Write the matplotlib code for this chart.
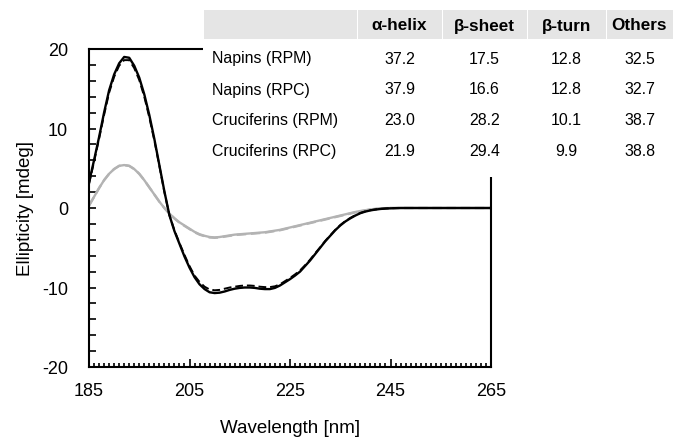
import numpy as np
import matplotlib
matplotlib.use("Agg")
import matplotlib.pyplot as plt
from matplotlib.patches import Rectangle
from matplotlib.ticker import MultipleLocator

plt.rcParams['font.family'] = ['Liberation Sans', 'DejaVu Sans']
plt.rcParams['axes.unicode_minus'] = False

# CD spectra, 1 nm steps from 185 to 265 nm
wavelength = np.arange(185, 266)

napins_rpm = [3.2, 6.0, 8.9, 12.0, 14.8, 16.8, 18.2, 19.0, 18.9, 17.9,
              16.4, 14.3, 11.7, 8.7, 5.4, 2.1, -0.9, -2.9, -4.5, -6.1,
              -7.5, -8.7, -9.6, -10.2, -10.6, -10.7, -10.65, -10.5, -10.3, -10.15,
              -10.05, -10.0, -10.0, -10.05, -10.15, -10.2, -10.2, -10.05, -9.75, -9.35,
              -8.95, -8.5, -8.0, -7.3, -6.6, -5.8, -5.0, -4.2, -3.5, -2.8,
              -2.2, -1.7, -1.3, -0.95, -0.65, -0.45, -0.3, -0.2, -0.12, -0.07,
              -0.04, -0.02, 0, 0, 0, 0, 0, 0, 0, 0,
              0, 0, 0, 0, 0, 0, 0, 0, 0, 0, 0]
napins_rpc = [3.0, 5.8, 8.7, 11.7, 14.5, 16.5, 17.9, 18.6, 18.6, 17.6,
              16.1, 14.0, 11.4, 8.5, 5.3, 2.0, -0.9, -2.8, -4.4, -5.9,
              -7.3, -8.5, -9.3, -9.9, -10.25, -10.35, -10.3, -10.15, -10.0, -9.9,
              -9.8, -9.75, -9.75, -9.8, -9.9, -9.95, -9.95, -9.85, -9.6, -9.2,
              -8.8, -8.35, -7.85, -7.2, -6.5, -5.7, -4.95, -4.15, -3.45, -2.75,
              -2.15, -1.65, -1.25, -0.9, -0.62, -0.42, -0.28, -0.18, -0.11, -0.06,
              -0.03, -0.01, 0, 0, 0, 0, 0, 0, 0, 0,
              0, 0, 0, 0, 0, 0, 0, 0, 0, 0, 0]
cruciferins_rpm = [0.3, 1.4, 2.5, 3.5, 4.3, 4.9, 5.3, 5.4, 5.3, 4.9,
                   4.3, 3.5, 2.6, 1.7, 0.8, 0.0, -0.7, -1.3, -1.8, -2.2,
                   -2.6, -3.0, -3.3, -3.5, -3.65, -3.7, -3.65, -3.55, -3.45, -3.35,
                   -3.3, -3.25, -3.2, -3.15, -3.1, -3.05, -2.95, -2.85, -2.75, -2.6,
                   -2.45, -2.3, -2.15, -2.0, -1.85, -1.7, -1.55, -1.4, -1.25, -1.1,
                   -0.95, -0.8, -0.65, -0.5, -0.38, -0.28, -0.18, -0.1, -0.05, -0.02,
                   0, 0, 0, 0, 0, 0, 0, 0, 0, 0,
                   0, 0, 0, 0, 0, 0, 0, 0, 0, 0, 0]
cruciferins_rpc = [0.3, 1.4, 2.5, 3.5, 4.3, 4.9, 5.3, 5.4, 5.3, 4.9,
                   4.3, 3.5, 2.6, 1.7, 0.8, 0.0, -0.7, -1.3, -1.85, -2.25,
                   -2.65, -3.05, -3.35, -3.55, -3.7, -3.75, -3.7, -3.6, -3.5, -3.4,
                   -3.35, -3.3, -3.25, -3.2, -3.15, -3.1, -3.0, -2.9, -2.8, -2.65,
                   -2.5, -2.35, -2.2, -2.05, -1.9, -1.75, -1.6, -1.45, -1.3, -1.15,
                   -1.0, -0.85, -0.7, -0.55, -0.42, -0.3, -0.2, -0.12, -0.06, -0.02,
                   0, 0, 0, 0, 0, 0, 0, 0, 0, 0,
                   0, 0, 0, 0, 0, 0, 0, 0, 0, 0, 0]

# secondary structure table
samples = ['Napins (RPM)', 'Napins (RPC)', 'Cruciferins (RPM)', 'Cruciferins (RPC)']
structures = ['α-helix', 'β-sheet', 'β-turn', 'Others']
alpha_helix = [37.2, 37.9, 23.0, 21.9]
beta_sheet = [17.5, 16.6, 28.2, 29.4]
beta_turn = [12.8, 12.8, 10.1, 9.9]
others = [32.5, 32.7, 38.7, 38.8]

fig = plt.figure(figsize=(6.75, 4.39), dpi=100)
ax = fig.add_axes([89 / 675, 1 - 368 / 439, 402 / 675, 318 / 439])

ax.plot(wavelength, cruciferins_rpm, color='#b3b3b3', lw=1.7)
ax.plot(wavelength, cruciferins_rpc, color='#b3b3b3', lw=1.7, ls=(0, (4, 2)))
ax.plot(wavelength, napins_rpm, color='black', lw=1.7)
ax.plot(wavelength, napins_rpc, color='black', lw=1.4, ls=(0, (4, 2)))

ax.set_xlim(185, 265)
ax.set_ylim(-20, 20)
ax.set_xticks(np.arange(185, 266, 20))
ax.xaxis.set_minor_locator(MultipleLocator(1))
ax.yaxis.set_major_locator(MultipleLocator(10))
ax.yaxis.set_minor_locator(MultipleLocator(2))
ax.tick_params(which='both', direction='in', labelsize=13, width=1.2)
ax.tick_params(axis='x', which='major', length=6, pad=11)
ax.tick_params(axis='x', which='minor', length=3)
ax.tick_params(axis='y', which='both', length=5)
ax.tick_params(axis='y', which='major', pad=15)
for s in ax.spines.values():
    s.set_linewidth(1.5)
ax.set_xlabel('Wavelength [nm]', fontsize=13.5, labelpad=14)
ax.set_ylabel('Ellipticity [mdeg]', fontsize=13.5, labelpad=6)

# table drawn on top in pixel coordinates
tb = fig.add_axes([0, 0, 1, 1], zorder=5)
tb.set_xlim(0, 675)
tb.set_ylim(439, 0)
tb.axis('off')
tb.patch.set_alpha(0)
tb.add_patch(Rectangle((203, 0), 472, 178, facecolor='white', edgecolor='none'))
col_edges = [203, 357, 442, 527, 606, 673]
for i in range(len(col_edges) - 1):
    tb.add_patch(Rectangle((col_edges[i] + 0.5, 11), col_edges[i + 1] - col_edges[i] - 1, 29,
                           facecolor='#e5e5e5', edgecolor='none'))
centers = [(col_edges[i] + col_edges[i + 1]) / 2 for i in range(1, 5)]
for c, name in zip(centers, structures):
    tb.text(c, 26, name, ha='center', va='center', fontsize=12.3, fontweight='bold')
row_y = [59, 90, 121, 152]
cols = [alpha_helix, beta_sheet, beta_turn, others]
for j, (y, name) in enumerate(zip(row_y, samples)):
    tb.text(212, y, name, ha='left', va='center', fontsize=11.4)
    for c, vals in zip(centers, cols):
        tb.text(c, y, '%.1f' % vals[j], ha='center', va='center', fontsize=11.4)

fig.savefig('out.png', dpi=100)
